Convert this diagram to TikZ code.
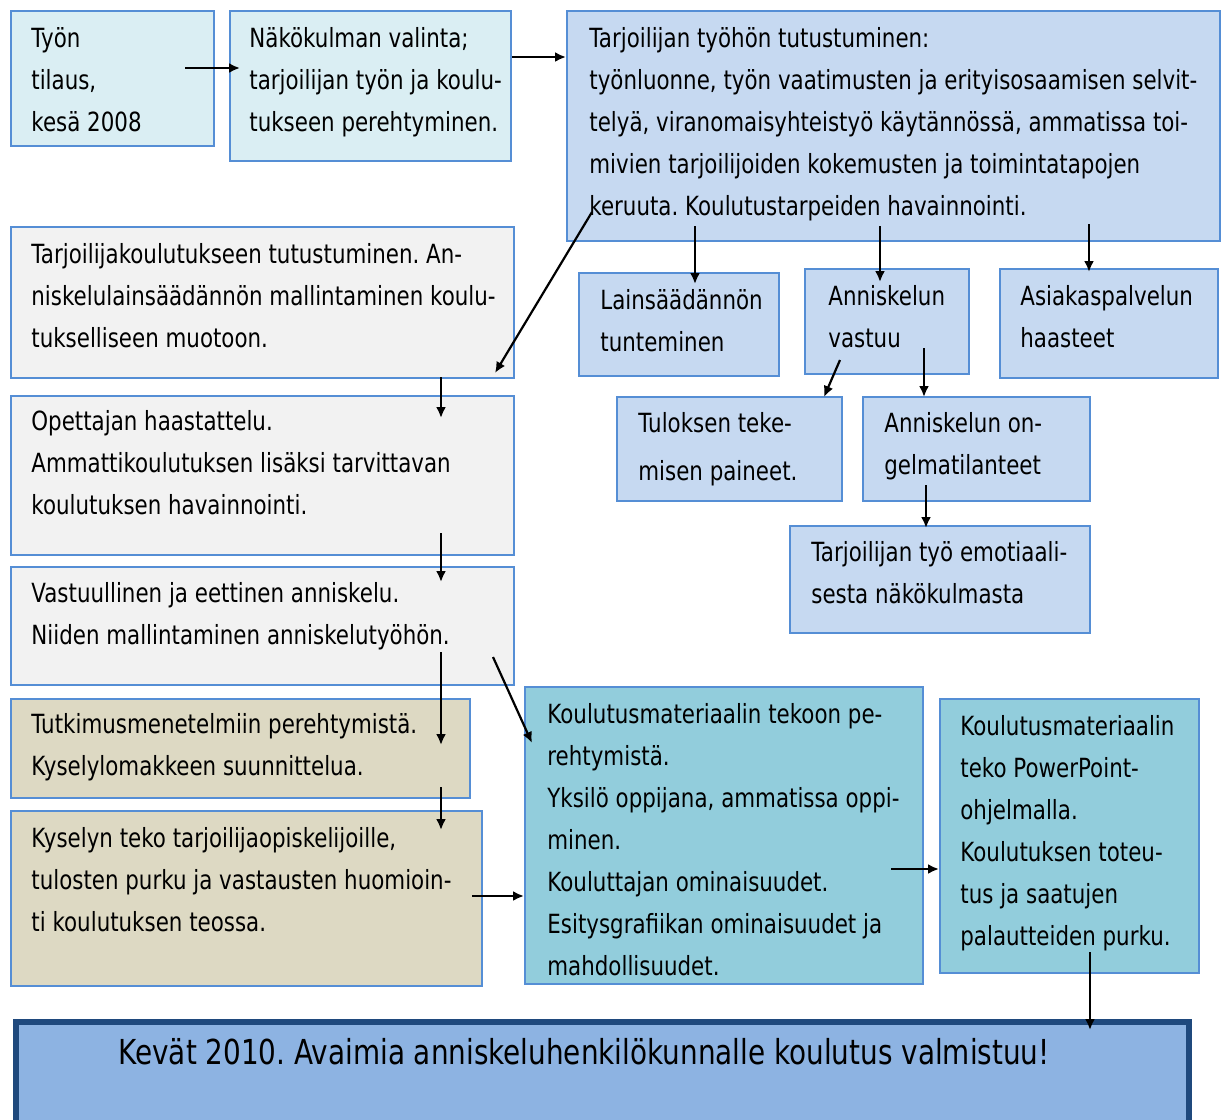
\documentclass[tikz,border=0pt]{standalone}
\usepackage{fontspec}
\setmainfont{DejaVu Sans}[FakeStretch=0.81]
\frenchspacing
\usetikzlibrary{arrows.meta}
\definecolor{cyanbg}{HTML}{DAEEF3}
\definecolor{edgeblue}{HTML}{558ED5}
\definecolor{lightblue}{HTML}{C6D9F1}
\definecolor{greybg}{HTML}{F2F2F2}
\definecolor{tanbg}{HTML}{DDD9C3}
\definecolor{tealbg}{HTML}{92CDDC}
\definecolor{finalbg}{HTML}{8DB3E2}
\definecolor{finaledge}{HTML}{1F497D}
\tikzset{box/.style 2 args={draw=edgeblue, line width=1pt, anchor=north west, inner sep=0pt, minimum width=#1*0.5pt, minimum height=#2*0.5pt}}
\tikzset{txt/.style={anchor=north west, align=left, inner sep=0pt, font=\fontsize{13.2}{21}\selectfont, execute at begin node=\strut}}
\tikzset{arr/.style={-{Latex[length=5.5pt,width=5pt]}, line width=1.1pt}}

\begin{document}
\begin{tikzpicture}[x=0.5pt, y=-0.5pt]
\useasboundingbox (0,0) rectangle (1223,1120);
\clip (0,0) rectangle (1223,1120);
% top row
\node[box={203}{135}, fill=cyanbg] (tilaus) at (10,10) {};
\node[txt] (tilausT) at (31,27) {Työn\\tilaus,\\kesä 2008};
\node[box={281}{150}, fill=cyanbg] (nako) at (229,10) {};
\node[txt] (nakoT) at (249,27) {Näkökulman valinta;\\tarjoilijan työn ja koulu-\\tukseen perehtyminen.};
\node[box={653}{230}, fill=lightblue] (tutust) at (566,10) {};
\node[txt] (tutustT) at (589,27) {Tarjoilijan työhön tutustuminen:\\työnluonne, työn vaatimusten ja erityisosaamisen selvit-\\telyä, viranomaisyhteistyö käytännössä, ammatissa toi-\\mivien tarjoilijoiden kokemusten ja toimintatapojen\\keruuta. Koulutustarpeiden havainnointi.};
% right branch
\node[box={200}{103}, fill=lightblue] (lain) at (578,272) {};
\node[txt] (lainT) at (600,289) {Lainsäädännön\\tunteminen};
\node[box={164}{105}, fill=lightblue] (vastuu) at (804,268) {};
\node[txt] (vastuuT) at (828,285) {Anniskelun\\vastuu};
\node[box={218}{109}, fill=lightblue] (asiakas) at (999,268) {};
\node[txt] (asiakasT) at (1020,285) {Asiakaspalvelun\\haasteet};
\node[box={225}{104}, fill=lightblue] (tulos) at (616,396) {};
\node[txt] (tulosT) at (638,412) {Tuloksen teke-\\[3pt]misen paineet.};
\node[box={227}{104}, fill=lightblue] (ongelma) at (862,396) {};
\node[txt] (ongelmaT) at (884,412) {Anniskelun on-\\gelmatilanteet};
\node[box={300}{107}, fill=lightblue] (emot) at (789,525) {};
\node[txt] (emotT) at (811,541) {Tarjoilijan työ emotiaali-\\sesta näkökulmasta};
% left column
\node[box={503}{151}, fill=greybg] (tkoul) at (10,226) {};
\node[txt] (tkoulT) at (31,243) {Tarjoilijakoulutukseen tutustuminen. An-\\niskelulainsäädännön mallintaminen koulu-\\tukselliseen muotoon.};
\node[box={503}{159}, fill=greybg] (opettaja) at (10,395) {};
\node[txt] (opettajaT) at (31,410) {Opettajan haastattelu.\\Ammattikoulutuksen lisäksi tarvittavan\\koulutuksen havainnointi.};
\node[box={503}{118}, fill=greybg] (vastuul) at (10,566) {};
\node[txt] (vastuulT) at (31,582) {Vastuullinen ja eettinen anniskelu.\\Niiden mallintaminen anniskelutyöhön.};
\node[box={459}{99}, fill=tanbg] (tutkim) at (10,698) {};
\node[txt] (tutkimT) at (31,713) {Tutkimusmenetelmiin perehtymistä.\\Kyselylomakkeen suunnittelua.};
\node[box={471}{175}, fill=tanbg] (kysely) at (10,810) {};
\node[txt] (kyselyT) at (31,827) {Kyselyn teko tarjoilijaopiskelijoille,\\tulosten purku ja vastausten huomioin-\\ti koulutuksen teossa.};
% material boxes
\node[box={398}{297}, fill=tealbg] (kmat) at (524,686) {};
\node[txt] (kmatT) at (547,703) {Koulutusmateriaalin tekoon pe-\\rehtymistä.\\Yksilö oppijana, ammatissa oppi-\\minen.\\Kouluttajan ominaisuudet.\\Esitysgrafiikan ominaisuudet ja\\mahdollisuudet.};
\node[box={259}{274}, fill=tealbg] (ppt) at (939,698) {};
\node[txt] (pptT) at (960,715) {Koulutusmateriaalin\\teko PowerPoint-\\ohjelmalla.\\Koulutuksen toteu-\\tus ja saatujen\\palautteiden purku.};
% final box
\node[box={1173}{130}, fill=finalbg, draw=finaledge, line width=3pt] (kevat) at (13,1019) {};
\node[anchor=base west, inner sep=0pt, font=\fontsize{17.2}{20}\selectfont] (kevatT) at (118,1064) {Kevät 2010. Avaimia anniskeluhenkilökunnalle koulutus valmistuu!};
% arrows
\draw[arr] ([shift={(175,58)}]tilaus.north west) -- ([shift={(11,58)}]nako.north west);
\draw[arr] ([shift={(283,47)}]nako.north west) -- ([shift={(0,47)}]tutust.north west);
\draw[arr] ([shift={(26,202)}]tutust.north west) -- ([shift={(485,147)}]tkoul.north west);
\draw[arr] ([shift={(129,216)}]tutust.north west) -- ([shift={(117,12)}]lain.north west);
\draw[arr] ([shift={(314,216)}]tutust.north west) -- ([shift={(76,14)}]vastuu.north west);
\draw[arr] ([shift={(523,214)}]tutust.north west) -- ([shift={(90,4)}]asiakas.north west);
\draw[arr] ([shift={(36,92)}]vastuu.north west) -- ([shift={(208,1)}]tulos.north west);
\draw[arr] ([shift={(120,80)}]vastuu.north west) -- ([shift={(62,1)}]ongelma.north west);
\draw[arr] ([shift={(64,89)}]ongelma.north west) -- ([shift={(137,3)}]emot.north west);
\draw[arr] ([shift={(431,151)}]tkoul.north west) -- ([shift={(431,23)}]opettaja.north west);
\draw[arr] ([shift={(431,138)}]opettaja.north west) -- ([shift={(431,16)}]vastuul.north west);
\draw[arr] ([shift={(431,86)}]vastuul.north west) -- ([shift={(431,47)}]tutkim.north west);
\draw[arr] ([shift={(431,89)}]tutkim.north west) -- ([shift={(431,20)}]kysely.north west);
\draw[arr] ([shift={(483,91)}]vastuul.north west) -- ([shift={(8,57)}]kmat.north west);
\draw[arr] ([shift={(462,86)}]kysely.north west) -- ([shift={(0,210)}]kmat.north west);
\draw[arr] ([shift={(367,183)}]kmat.north west) -- ([shift={(0,171)}]ppt.north west);
\draw[arr] ([shift={(151,254)}]ppt.north west) -- ([shift={(1077,11)}]kevat.north west);
\end{tikzpicture}
\end{document}
